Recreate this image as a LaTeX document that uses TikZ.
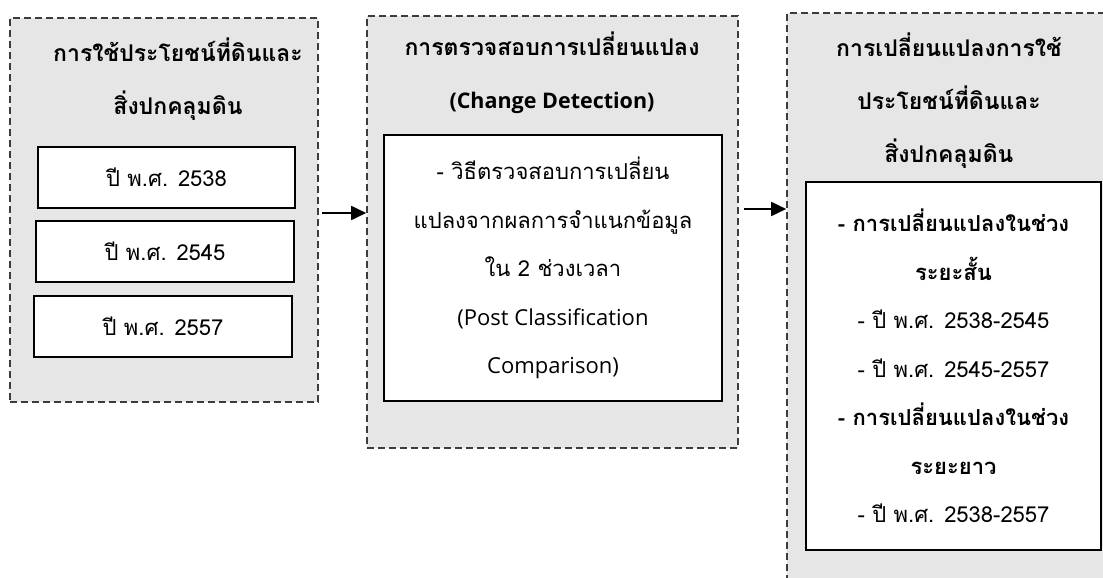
\documentclass[tikz,border=0pt]{standalone}
\usepackage{fontspec}
\setmainfont{Loma}[Script=Thai]
\newfontfamily\latinfont{Open Sans}
\usetikzlibrary{arrows.meta}
\definecolor{panelgray}{HTML}{E6E6E6}
\definecolor{dashgray}{HTML}{3C3C3C}

\begin{document}
\begin{tikzpicture}[x=1pt, y=-1pt,
    panel/.style={draw=dashgray, fill=panelgray, line width=1.6pt,
      dash pattern=on 7pt off 4pt, inner sep=0pt},
    whitebox/.style={draw, fill=white, line width=1.2pt, inner sep=0pt,
      align=center, font=\fontsize{22}{48.5}\selectfont},
    paneltitle/.style={align=center, font=\fontsize{23}{53}\selectfont\bfseries},
    flow/.style={-{Triangle[length=15pt, width=14pt]}, line width=1.8pt}]
    \clip (0,0) rectangle (1103,578);

    % Dashed panels
    \node[panel, minimum width=308, minimum height=384] (landuse) at (164,210) {};
    \node[panel, minimum width=371, minimum height=432] (detect) at (552.5,232) {};
    \node[panel, minimum width=333, minimum height=587] (change) at (953.5,306.5) {};

    % Panel titles
    \node[paneltitle] (landuseTitle) at (178,79)
      {การใช้ประโยชน์ที่ดินและ\\สิ่งปกคลุมดิน};
    \node[paneltitle] (detectTitle) at (552,72.5)
      {การตรวจสอบการเปลี่ยนแปลง\\{\latinfont\fontsize{21.5}{53}\selectfont (Change Detection)}};
    \node[paneltitle] (changeTitle) at (949,101)
      {การเปลี่ยนแปลงการใช้\\ประโยชน์ที่ดินและ\\สิ่งปกคลุมดิน};

    % Years
    \node[whitebox, minimum width=257, minimum height=61] (y2538) at (166.5,177.5) {ปี พ.ศ. 2538};
    \node[whitebox, minimum width=258, minimum height=61] (y2545) at (165,251.5) {ปี พ.ศ. 2545};
    \node[whitebox, minimum width=258, minimum height=61] (y2557) at (163,326.5) {ปี พ.ศ. 2557};

    % Method
    \node[whitebox, minimum width=338, minimum height=266] (method) at (553,268)
      {- วิธีตรวจสอบการเปลี่ยน\\แปลงจากผลการจำแนกข้อมูล\\ใน 2 ช่วงเวลา\\
       {\latinfont\fontsize{22}{48.5}\selectfont (Post Classification}\\
       {\latinfont\fontsize{22}{48.5}\selectfont Comparison)}};

    % Result
    \node[whitebox, minimum width=295, minimum height=368] (result) at (953.5,366)
      {\textbf{- การเปลี่ยนแปลงในช่วง}\\\textbf{ระยะสั้น}\\- ปี พ.ศ. 2538-2545\\- ปี พ.ศ. 2545-2557\\
       \textbf{- การเปลี่ยนแปลงในช่วง}\\\textbf{ระยะยาว}\\- ปี พ.ศ. 2538-2557};

    % Arrows
    \draw[flow] ([xshift=3pt, yshift=-3pt]landuse.east) -- ([yshift=-3pt]landuse.east -| detect.west);
    \draw[flow] ([xshift=5pt, yshift=23pt]detect.east) -- ([yshift=23pt]detect.east -| change.west);
\end{tikzpicture}
\end{document}
